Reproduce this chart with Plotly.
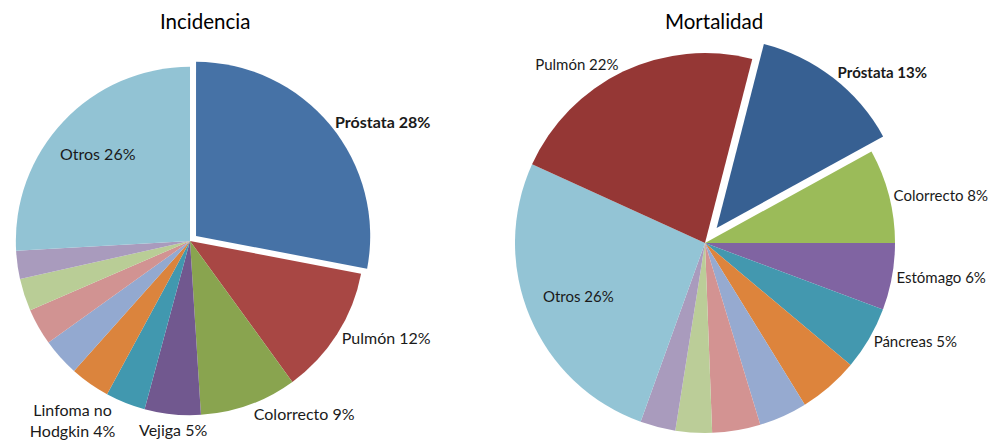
import math
import plotly.graph_objects as go

# ---- Incidencia ----
inc_labels = ["Próstata", "Pulmón", "Colorrecto", "Vejiga", "Linfoma no<br>Hodgkin",
              "Otro A", "Otro B", "Otro C", "Otro D", "Otro E", "Otros"]
inc_values = [28, 12, 9, 5.2, 3.7, 3.7, 3.5, 3.4, 3.0, 2.6, 25.9]
inc_shown = ["28%", "12%", "9%", "5%", "4%", "", "", "", "", "", "26%"]
inc_colors = ["#4672A6", "#A84744", "#89A44F", "#71588F", "#4198AF", "#DB843D",
              "#93A9D0", "#D19392", "#B9CD96", "#A99BBD", "#92C3D4"]

# ---- Mortalidad ----
mor_labels = ["Próstata", "Colorrecto", "Estómago", "Páncreas",
              "Otro A", "Otro B", "Otro C", "Otro D", "Otro E", "Otros", "Pulmón"]
mor_values = [13, 8, 5.7, 5.4, 5.1, 4.1, 4.1, 3.1, 3.0, 26.3, 22.2]
mor_shown = ["13%", "8%", "6%", "5%", "", "", "", "", "", "26%", "22%"]
mor_colors = ["#376092", "#9BBB59", "#8064A2", "#4398AF", "#DD843C",
              "#96AAD0", "#D39392", "#BBCD98", "#A99BBD", "#93C4D5", "#953735"]

FONT = "Lato, Calibri, sans-serif"
TXT = "#1a1a1a"
W, H = 996, 446

# layout geometry (figure pixels): pie centre and half box size
INC_C, INC_HALF, INC_PULL = (182, 233), 182, 0.045
MOR_C, MOR_HALF, MOR_PULL = (697, 235), 209, 0.10
INC_ROT, MOR_ROT = 0, 14.4

# labels drawn as annotations (placed from the slice's mid angle)
INC_SKIP = ("Vejiga", "Otros")
MOR_SKIP = ("Otros",)


def domain(c, half):
    return dict(x=[(c[0] - half) / W, (c[0] + half) / W],
                y=[(H - c[1] - half) / H, (H - c[1] + half) / H])


def label_of(l, s):
    return f"<b>{l} {s}</b>" if l == "Próstata" else f"{l} {s}"


def make_text(labels, shown, skip=()):
    return ["" if (not s or l in skip) else label_of(l, s) for l, s in zip(labels, shown)]


def make_pos(labels, shown, skip=()):
    return ["none" if (not s or l in skip) else "outside" for l, s in zip(labels, shown)]


def slice_point(values, idx, rot, c, half, pull, frac, gap=0):
    tot = sum(values)
    start = sum(values[:idx]) / tot * 360 + rot
    mid = math.radians(start + values[idx] / tot * 360 / 2)
    r = half / (1 + pull) * frac
    fx = c[0] + r * math.sin(mid)
    fy = c[1] - r * math.cos(mid) + gap
    return fx / W, 1 - fy / H


fig = go.Figure()
fig.add_trace(go.Pie(
    labels=inc_labels, values=inc_values,
    text=make_text(inc_labels, inc_shown, INC_SKIP),
    textinfo="text", textposition=make_pos(inc_labels, inc_shown, INC_SKIP),
    automargin=False,
    sort=False, direction="clockwise", rotation=INC_ROT,
    pull=[INC_PULL if l == "Próstata" else 0 for l in inc_labels],
    marker=dict(colors=inc_colors, line=dict(width=0)),
    textfont=dict(family=FONT, size=16, color=TXT),
    domain=domain(INC_C, INC_HALF),
    showlegend=False, hoverinfo="label+percent",
))
fig.add_trace(go.Pie(
    labels=mor_labels, values=mor_values,
    text=make_text(mor_labels, mor_shown, MOR_SKIP),
    textinfo="text", textposition=make_pos(mor_labels, mor_shown, MOR_SKIP),
    automargin=False,
    sort=False, direction="clockwise", rotation=MOR_ROT,
    pull=[MOR_PULL if l == "Próstata" else 0 for l in mor_labels],
    marker=dict(colors=mor_colors, line=dict(width=0)),
    textfont=dict(family=FONT, size=15, color=TXT),
    domain=domain(MOR_C, MOR_HALF),
    showlegend=False, hoverinfo="label+percent",
))

annotations = [
    dict(text="Incidencia", x=197 / W, y=1, xref="paper", yref="paper",
         showarrow=False, font=dict(size=20.5, family=FONT, color="#000"),
         xanchor="center", yanchor="top", borderpad=0),
    dict(text="Mortalidad", x=706 / W, y=1, xref="paper", yref="paper",
         showarrow=False, font=dict(size=20.5, family=FONT, color="#000"),
         xanchor="center", yanchor="top", borderpad=0),
]

vi = inc_labels.index("Vejiga")
vx, vy = slice_point(inc_values, vi, INC_ROT, INC_C, INC_HALF, INC_PULL, 1.0, gap=4)
annotations.append(dict(text=label_of(inc_labels[vi], inc_shown[vi]), x=vx, y=vy,
                        xref="paper", yref="paper", showarrow=False,
                        font=dict(size=16, family=FONT, color=TXT),
                        xanchor="center", yanchor="top"))

oi = inc_labels.index("Otros")
ox, oy = slice_point(inc_values, oi, INC_ROT, INC_C, INC_HALF, INC_PULL, 0.73)
annotations.append(dict(text=label_of(inc_labels[oi], inc_shown[oi]), x=ox, y=oy,
                        xref="paper", yref="paper", showarrow=False,
                        font=dict(size=16, family=FONT, color=TXT),
                        xanchor="center", yanchor="middle"))

mi = mor_labels.index("Otros")
mx, my = slice_point(mor_values, mi, MOR_ROT, MOR_C, MOR_HALF, MOR_PULL, 0.72)
annotations.append(dict(text=label_of(mor_labels[mi], mor_shown[mi]), x=mx, y=my,
                        xref="paper", yref="paper", showarrow=False,
                        font=dict(size=15, family=FONT, color=TXT),
                        xanchor="center", yanchor="middle"))

fig.update_layout(
    width=W, height=H, autosize=False,
    margin=dict(l=0, r=0, t=0, b=0, pad=0, autoexpand=False),
    paper_bgcolor="white", plot_bgcolor="white",
    font=dict(family=FONT, color="#000"),
    annotations=annotations,
)

fig.write_html("out.html")
